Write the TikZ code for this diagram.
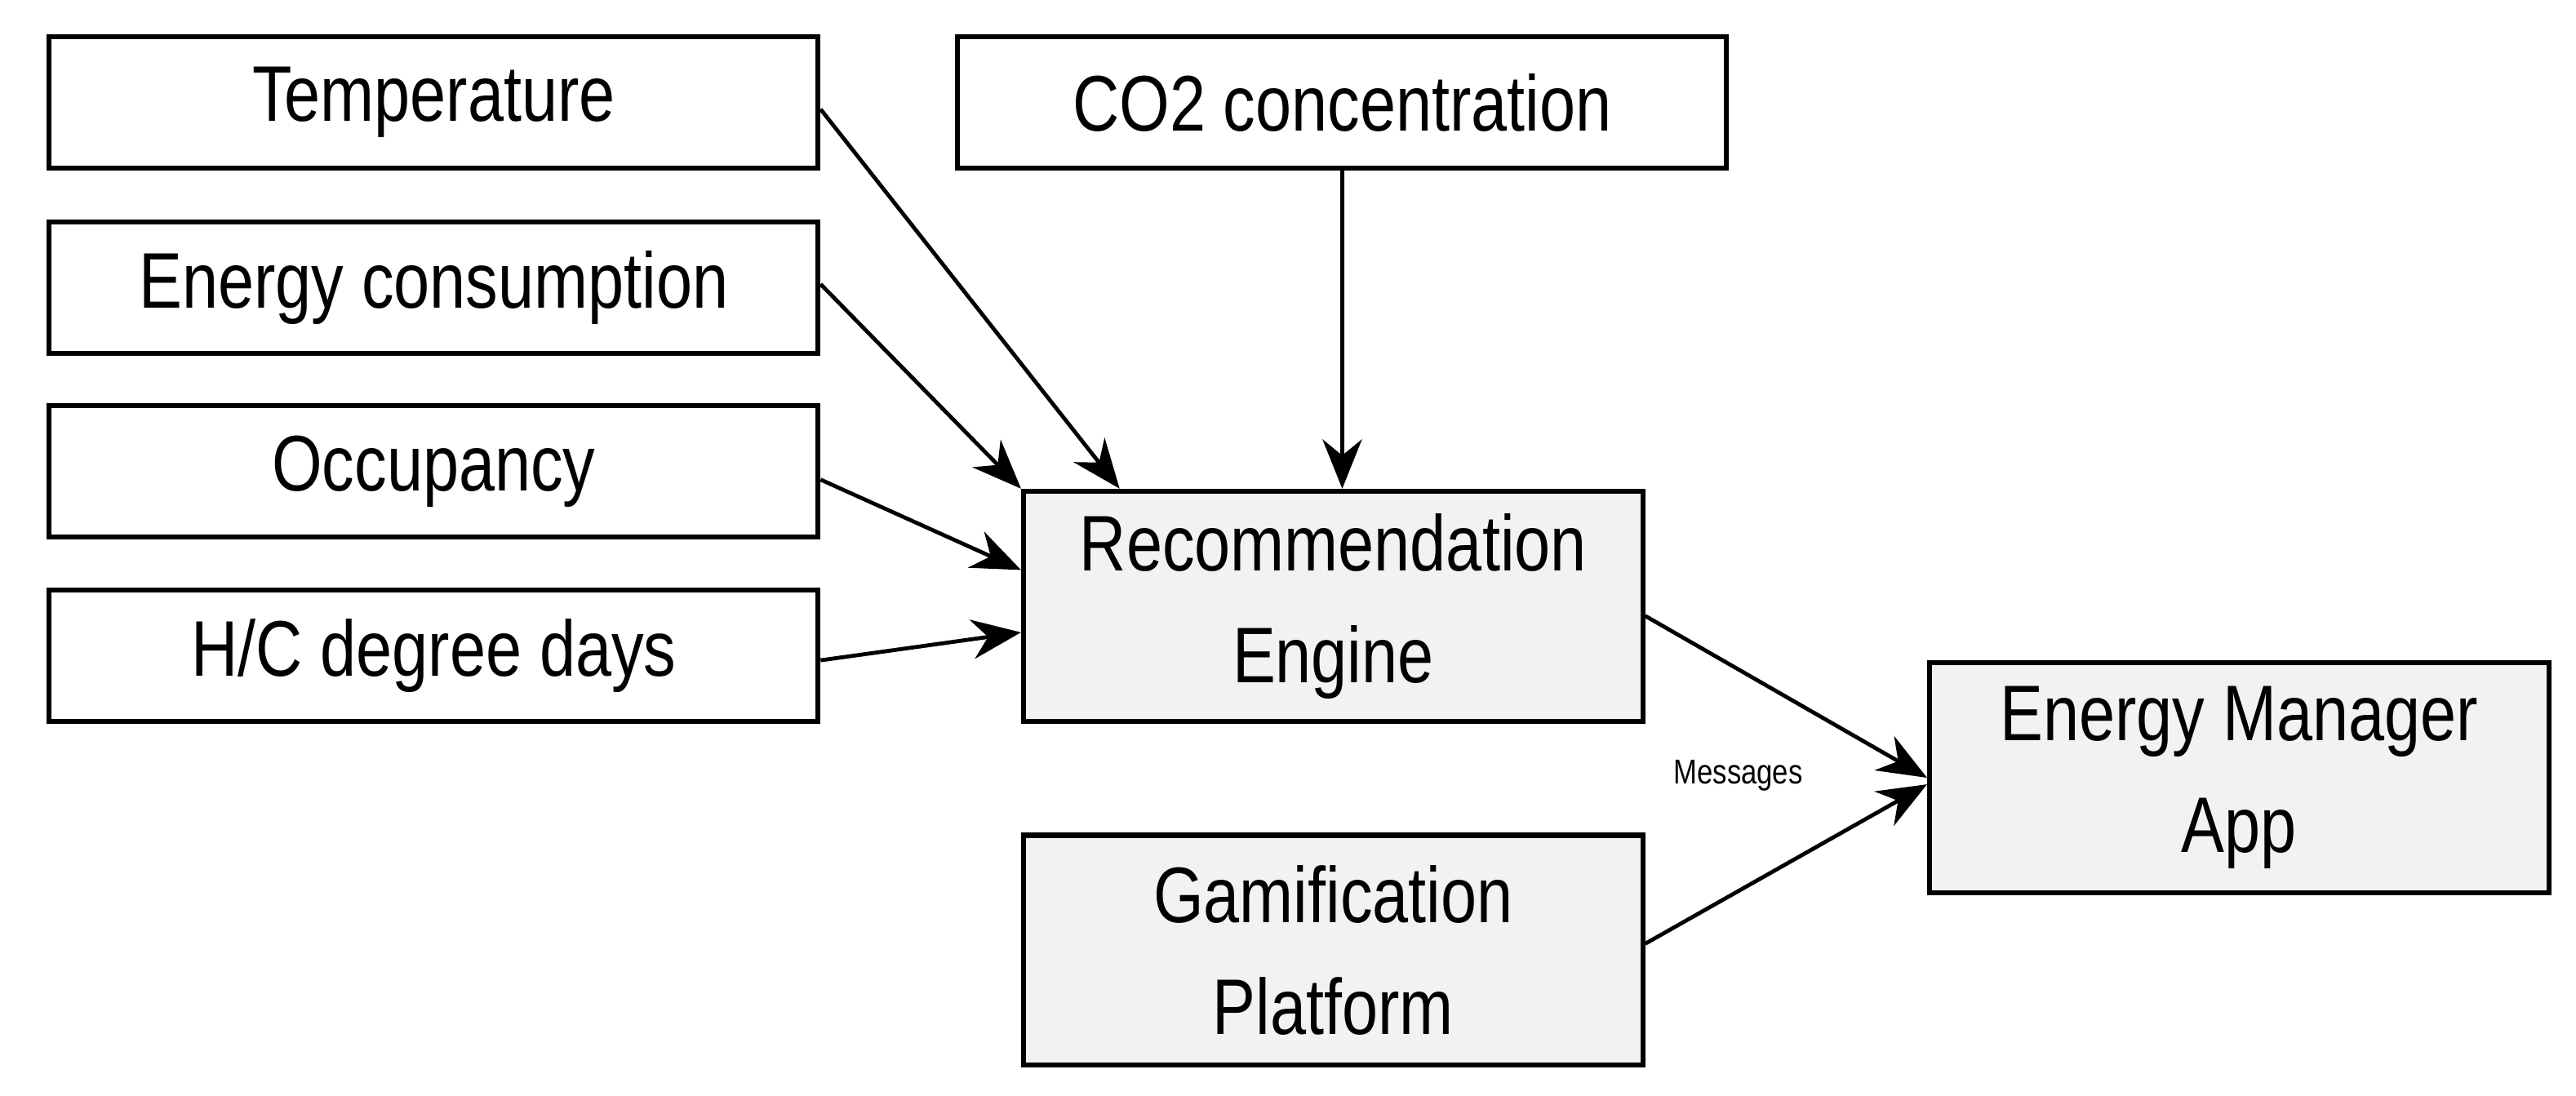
\documentclass[tikz,border=0pt]{standalone}
\usepackage{fontspec}
\setmainfont{Liberation Sans}[FakeStretch=0.82]
\usetikzlibrary{arrows.meta,calc}
\begin{document}
\begin{tikzpicture}[x=0.5pt,y=-0.5pt,
  box/.style={draw,line width=1.5pt,minimum width=234pt,minimum height=40pt,inner sep=0pt,font=\fontsize{24}{28}\selectfont},
  big/.style={draw,line width=1.5pt,fill=gray!10,minimum width=188.5pt,minimum height=70pt,inner sep=0pt,align=center,font=\fontsize{24}{34}\selectfont},
  arr/.style={line width=1.2pt,-{Stealth[length=15pt,width=12pt]}}]
\useasboundingbox (0,0) rectangle (1568,667);
\node[box] (temp) at (264,62.5) {Temperature};
\node[box] (energy) at (264,175) {Energy consumption};
\node[box] (occ) at (264,287) {Occupancy};
\node[box] (hc) at (264,399) {H/C degree days};
\node[box] (co2) at (817,62.5) {CO2 concentration};
\node[big] (rec) at (811.5,369) {Recommendation\\Engine};
\node[big] (gam) at (811.5,578.5) {Gamification\\Platform};
\node[big] (app) at (1363,473.5) {Energy Manager\\App};
\draw[arr] ($(temp.east)+(0,4)$) -- ($(rec.north west)+(60,0)$);
\draw[arr] ($(energy.east)+(0,-2)$) -- (rec.north west);
\draw[arr] ($(occ.east)+(0,5)$) -- ($(rec.west)+(0,-22)$);
\draw[arr] ($(hc.east)+(0,3)$) -- ($(rec.west)+(0,16)$);
\draw[arr] (co2.south) -- (co2.south |- rec.north);
\draw[arr] ($(rec.east)+(0,6)$) -- ($(app.west)+(0,0)$);
\draw[arr] ($(gam.east)+(0,-4)$) -- ($(app.west)+(0,4)$);
\node[font=\fontsize{10.5}{12}\selectfont] (msg) at (1058,472) {Messages};
\end{tikzpicture}
\end{document}
